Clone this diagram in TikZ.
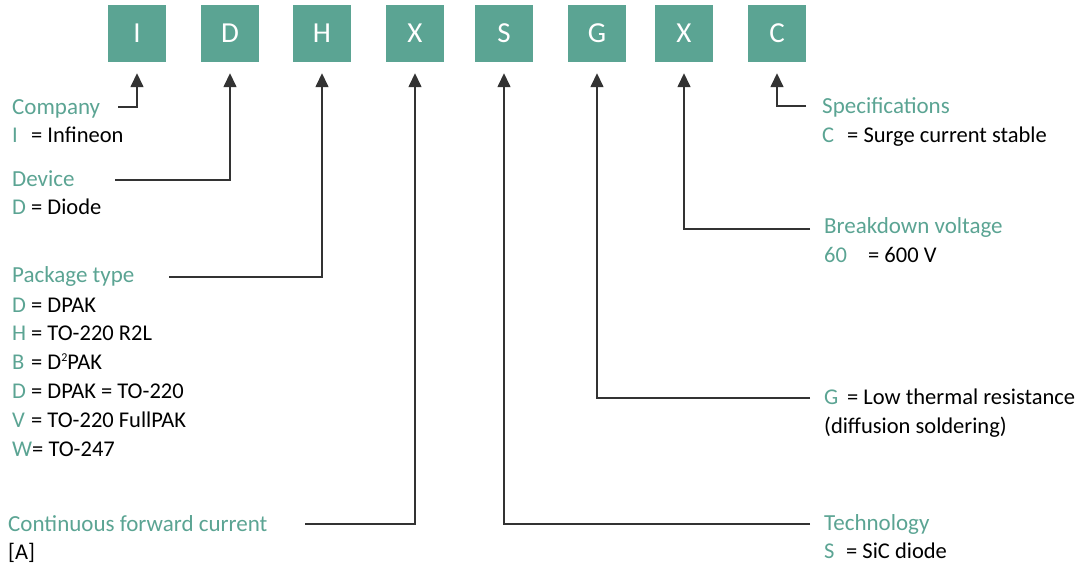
\documentclass[tikz,border=0pt]{standalone}
\usepackage{fontspec}
\setmainfont{Carlito}
\usetikzlibrary{arrows.meta,positioning}
\definecolor{ifxteal}{RGB}{91,164,147}
\newcommand{\supsmall}[1]{\raisebox{0.75ex}{\fontsize{12}{12}\selectfont #1}}

\begin{document}
\begin{tikzpicture}[
    x=1pt, y=-1pt,
    letter/.style={fill=ifxteal, text=white, minimum width=58pt, minimum height=57pt, inner sep=0pt, font=\fontsize{29}{29}\selectfont},
    title/.style={anchor=base west, inner sep=0pt, text=ifxteal, font=\fontsize{23}{27}\selectfont},
    value/.style={anchor=base west, inner sep=0pt, font=\fontsize{22.5}{27}\selectfont},
    conn/.style={draw=black!80, line width=1.5pt, -{Triangle[width=13pt,length=14pt]}, shorten >=11pt}
]
\useasboundingbox (0,0) rectangle (1087,566);

% code letters
\node[letter] (bI) at (137,33.5) {I};
\node[letter] (bD) at (230,33.5) {D};
\node[letter] (bH) at (322,33.5) {H};
\node[letter] (bXa) at (415,33.5) {X};
\node[letter] (bS) at (504,33.5) {S};
\node[letter] (bG) at (597,33.5) {G};
\node[letter] (bXb) at (684,33.5) {X};
\node[letter] (bC) at (777,33.5) {C};

% left side
\node[title] (company) at (12,114) {Company};
\node[value] (companyv) at (12,142) {\makebox[19pt][l]{\color{ifxteal}I}= Infineon};
\node[title] (device) at (12,186) {Device};
\node[value] (devicev) at (12,214) {\makebox[19pt][l]{\color{ifxteal}D}= Diode};
\node[title] (package) at (12,282) {Package type};
\foreach \k/\v [count=\i] in {D/DPAK, H/TO-220 R2L, B/D\supsmall{2}PAK, D/DPAK = TO-220, V/TO-220 FullPAK}
    \node[value] (packagev\i) at (12,283.2+28.8*\i) {\makebox[19pt][l]{\color{ifxteal}\k}= \v};
\node[value] (packagev6) at (12,456) {{\color{ifxteal}W}= TO-247};
\node[title] (current) at (8,531) {Continuous forward current};
\node[value] (currentv) at (8,559) {[A]};

% right side
\node[title] (spec) at (822,113) {Specifications};
\node[value] (specv) at (822,142) {\makebox[25pt][l]{\color{ifxteal}C}= Surge current stable};
\node[title] (voltage) at (824,233) {Breakdown voltage};
\node[value] (voltagev) at (824,262) {\makebox[44pt][l]{\color{ifxteal}60}= 600 V};
\node[value] (thermal) at (824,404) {\makebox[23pt][l]{\color{ifxteal}G}= Low thermal resistance};
\node[value] (thermalv) at (824,433) {(diffusion soldering)};
\node[title] (tech) at (824,530) {Technology};
\node[value] (techv) at (824,558) {\makebox[22pt][l]{\color{ifxteal}S}= SiC diode};

% connector starts
\coordinate (cCompany) at (118,107);
\coordinate (cDevice) at (115,180);
\coordinate (cPackage) at (169,277);
\coordinate (cCurrent) at (305,524);
\coordinate (cTech) at (810,524);
\coordinate (cThermal) at (810,398);
\coordinate (cVoltage) at (810,229);
\coordinate (cSpec) at (806,106);

\draw[conn] (cCompany) -| (bI);
\draw[conn] (cDevice) -| (bD);
\draw[conn] (cPackage) -| (bH);
\draw[conn] (cCurrent) -| (bXa);
\draw[conn] (cTech) -| (bS);
\draw[conn] (cThermal) -| (bG);
\draw[conn] (cVoltage) -| (bXb);
\draw[conn] (cSpec) -| (bC);
\end{tikzpicture}
\end{document}
